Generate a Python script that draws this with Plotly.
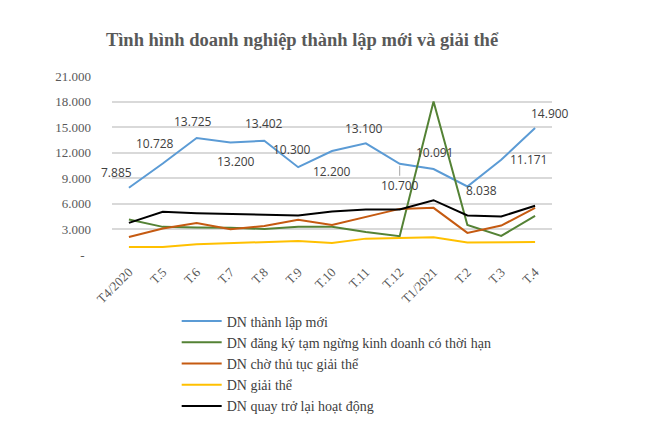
import plotly.graph_objects as go

categories = ["T4/2020", "T.5", "T.6", "T.7", "T.8", "T.9", "T.10", "T.11", "T.12",
              "T1/2021", "T.2", "T.3", "T.4"]
thanh_lap_moi = [7885, 10728, 13725, 13200, 13402, 10300, 12200, 13100, 10700, 10091, 8038, 11171, 14900]
tam_ngung = [4160, 3300, 3220, 3200, 3050, 3300, 3300, 2700, 2200, 18000, 3530, 2240, 4590]
cho_giai_the = [2120, 3100, 3760, 3020, 3400, 4120, 3530, 4470, 5410, 5530, 2590, 3450, 5530]
giai_the = [940, 940, 1260, 1410, 1480, 1650, 1410, 1920, 2000, 2080, 1460, 1500, 1530]
quay_tro_lai = [3765, 5060, 4900, 4800, 4700, 4630, 5100, 5340, 5340, 6430, 4630, 4520, 5770]

y_tickvals = [0, 3000, 6000, 9000, 12000, 15000, 18000, 21000]
y_ticktext = ["-\u00a0\u00a0", "3.000", "6.000", "9.000", "12.000", "15.000", "18.000", "21.000"]

series = [
    ("DN thành lập mới", thanh_lap_moi, "#5b9bd5"),
    ("DN đăng ký tạm ngừng kinh doanh có thời hạn", tam_ngung, "#548235"),
    ("DN chờ thủ tục giải thể", cho_giai_the, "#c55a11"),
    ("DN giải thể", giai_the, "#ffc000"),
    ("DN quay trở lại hoạt động", quay_tro_lai, "#000000"),
]

# label offsets (pixels) for the data labels of the first series
label_shift = [(-12, 15), (-8, 20), (-4, 17), (6, -19), (0, 17), (-6, 18), (0, -20),
               (-2, 15), (0, -22), (1, 16), (14, -4), (27, 0), (15, 15)]

fig = go.Figure()
for name, vals, color in series:
    fig.add_trace(go.Scatter(x=categories, y=vals, mode="lines", name=name,
                             line=dict(color=color, width=2)))

def fmt(v):
    return f"{v:,}".replace(",", ".")

for i, (c, v) in enumerate(zip(categories, thanh_lap_moi)):
    dx, dy = label_shift[i]
    if i == 8:
        fig.add_annotation(x=c, y=v, text=fmt(v), showarrow=True, arrowhead=0,
                           arrowwidth=1, arrowcolor="#a6a6a6", ax=dx, ay=-dy, standoff=2,
                           font=dict(family="Open Sans", size=12, color="#404040"))
    else:
        fig.add_annotation(x=c, y=v, text=fmt(v), showarrow=False, xshift=dx, yshift=dy,
                           font=dict(family="Open Sans", size=12, color="#404040"))

# the page body adds an 8px offset, so the figure is 8px smaller on each axis
W, H = 642, 417
fig.update_layout(
    width=W, height=H,
    margin=dict(l=104, r=98, t=68, b=170, autoexpand=False),
    paper_bgcolor="white", plot_bgcolor="white",
    title=dict(text="<b>Tình hình doanh nghiệp thành lập mới và giải thể</b>",
               x=294 / W, xref="container", y=1 - 32 / H, yref="container",
               xanchor="center", yanchor="middle",
               font=dict(family="Liberation Serif", size=18.5, color="#595959")),
    xaxis=dict(type="category", range=[-0.5, 12.5], showgrid=False, showline=False,
               zeroline=False, tickangle=-45, ticks="", automargin=False,
               ticklabelstandoff=6,
               tickfont=dict(family="Liberation Serif", size=13, color="#595959")),
    yaxis=dict(range=[0, 21000], tickvals=y_tickvals, ticktext=y_ticktext,
               showgrid=True, gridcolor="#d9d9d9", gridwidth=1.5, zeroline=False,
               showline=False, ticks="", ticklabelstandoff=20, automargin=False,
               tickfont=dict(family="Liberation Serif", size=13, color="#595959")),
    legend=dict(x=0.147, y=-0.282, xanchor="left", yanchor="top",
                font=dict(family="Liberation Serif", size=14, color="#404040"),
                bgcolor="rgba(0,0,0,0)", itemwidth=40),
    showlegend=True,
)

fig.write_html("out.html")
